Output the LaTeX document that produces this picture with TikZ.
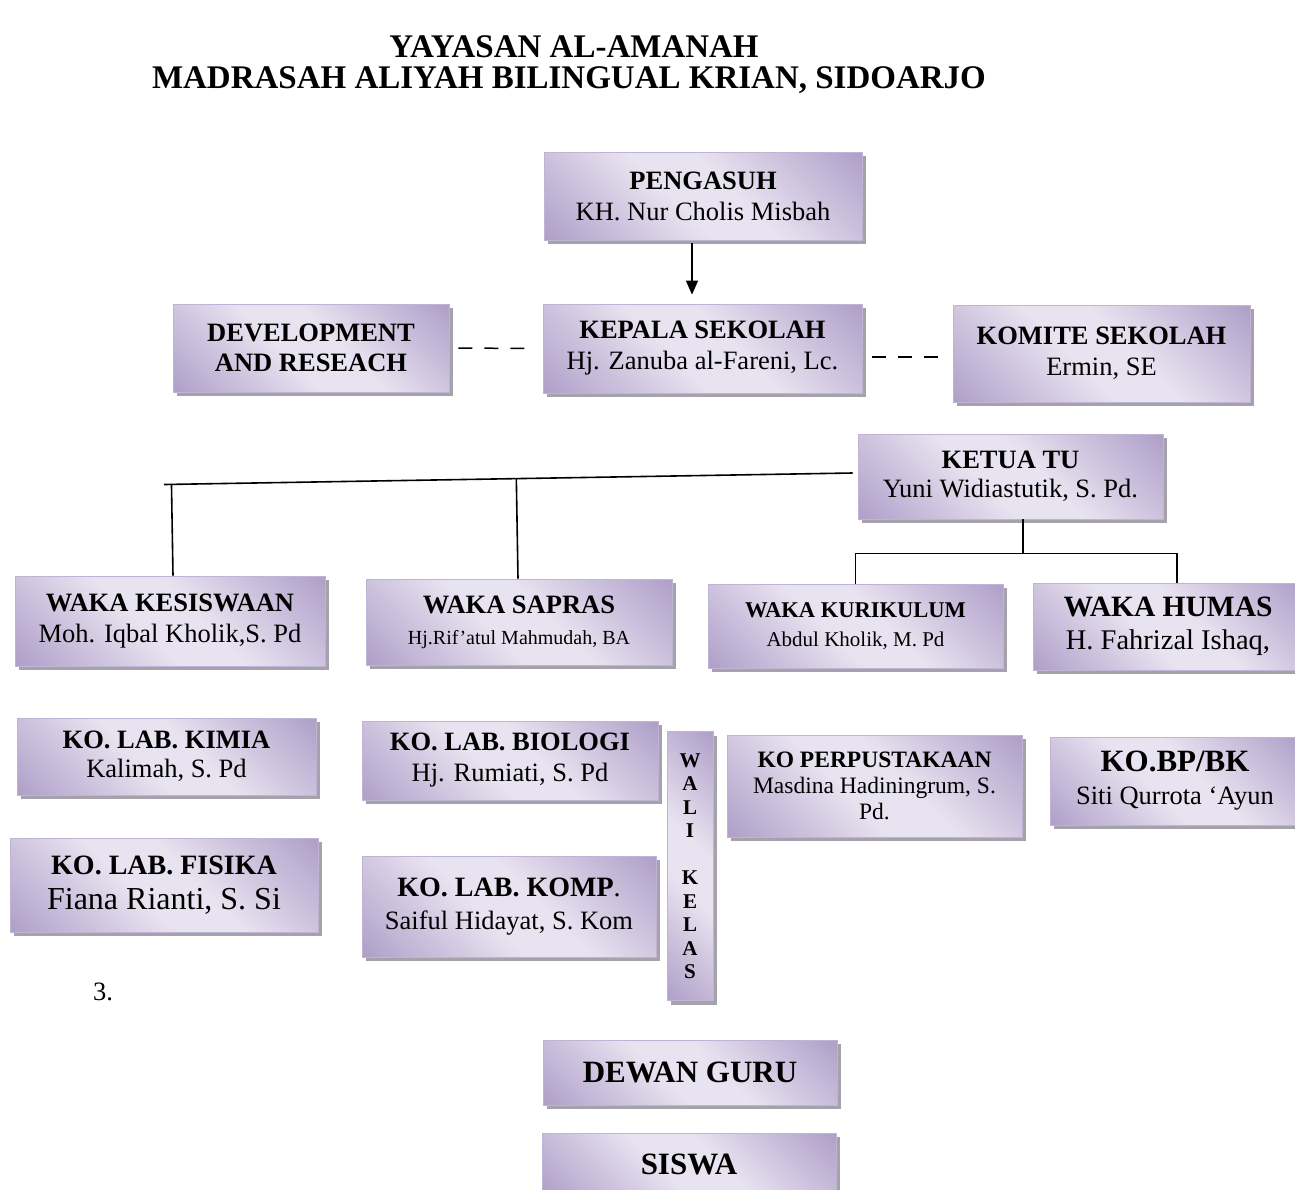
\documentclass[tikz,border=0pt]{standalone}
\usepackage{fontspec}
\setmainfont{Liberation Serif}
\usetikzlibrary{shadows,calc,arrows.meta}
\definecolor{plight}{HTML}{E8E3F0}
\definecolor{pdark}{HTML}{AE9DC8}
\definecolor{pborder}{HTML}{BFB3D6}
\definecolor{shadowc}{HTML}{A6A2AC}
\pgfdeclareverticalshading{boxsh}{100bp}{color(0bp)=(pdark); color(14bp)=(pdark); color(44bp)=(plight); color(56bp)=(plight); color(86bp)=(pdark); color(100bp)=(pdark)}
\newcommand{\fsz}[2]{\fontsize{#1}{#2}\selectfont}
\tikzset{
  box/.style={draw=pborder, line width=0.8pt, shade, shading=boxsh, shading angle=-45,
    inner sep=2pt, align=center,
    drop shadow={shadow xshift=4pt, shadow yshift=-4pt, fill=shadowc, opacity=1, draw=none}},
  conn/.style={line width=1.6pt, black},
  dashconn/.style={line width=1.5pt, black, dash pattern=on 14pt off 12pt},
}
\begin{document}
\begin{tikzpicture}[x=1pt,y=-1pt]
\fill[white] (0,0) rectangle (1295,1189);
\useasboundingbox (0,0) rectangle (1295,1189);

% title
\node[anchor=base, font=\fsz{33}{33}\bfseries, inner sep=0] (t1) at (574,57) {YAYASAN AL-AMANAH};
\node[anchor=base, font=\fsz{33}{33}\bfseries, inner sep=0] (t2) at (569,88) {MADRASAH ALIYAH BILINGUAL KRIAN, SIDOARJO};

% boxes
\node[box, minimum width=318pt, minimum height=88pt, font=\fsz{26.5}{31}] (peng) at (703,196) {\textbf{PENGASUH}\\KH. Nur Cholis Misbah};
\node[box, minimum width=319pt, minimum height=89pt, font=\fsz{26.5}{31}] (kep) at (702.5,348.5) {\textbf{KEPALA SEKOLAH}\\Hj. Zanuba al-Fareni, Lc.};
\node[box, minimum width=276pt, minimum height=88pt, font=\fsz{26.5}{30}\bfseries] (dev) at (311,348) {DEVELOPMENT\\AND RESEACH};
\node[box, minimum width=297pt, minimum height=97pt, font=\fsz{26.5}{31}] (kom) at (1101.5,353.5) {\textbf{KOMITE SEKOLAH}\\Ermin, SE};
\node[box, minimum width=305pt, minimum height=85pt, font=\fsz{26.5}{29}] (ketua) at (1010.5,476.5) {\textbf{KETUA TU}\\Yuni Widiastutik, S. Pd.};

\node[box, minimum width=310pt, minimum height=90pt, font=\fsz{26.5}{31}] (kes) at (170,621) {\textbf{WAKA KESISWAAN}\\Moh. Iqbal Kholik,S. Pd};
\node[box, minimum width=306pt, minimum height=86pt, font=\fsz{26.5}{31}] (sap) at (519,622) {\textbf{WAKA SAPRAS}\\{\fsz{20}{28}Hj.Rif’atul Mahmudah, BA}};
\node[box, minimum width=295pt, minimum height=84pt, font=\fsz{22.5}{29}] (kur) at (855.5,626) {\textbf{WAKA KURIKULUM}\\{\fsz{21}{28}Abdul Kholik, M. Pd}};
\node[box, minimum width=270pt, minimum height=87pt, font=\fsz{29.5}{33}] (hum) at (1168,626.5) {\textbf{WAKA HUMAS}\\{\fsz{28.5}{33}H. Fahrizal Ishaq,}};

\node[box, minimum width=299pt, minimum height=77pt, font=\fsz{26.5}{29}] (kim) at (166.5,756.5) {\textbf{KO. LAB. KIMIA}\\Kalimah, S. Pd};
\node[box, minimum width=296pt, minimum height=79pt, font=\fsz{26.5}{31}] (bio) at (510,760.5) {\textbf{KO. LAB. BIOLOGI}\\Hj. Rumiati, S. Pd};
\node[box, minimum width=308pt, minimum height=94pt, font=\fsz{28}{35}] (fis) at (164,885) {\textbf{KO. LAB. FISIKA}\\{\fsz{32}{35}Fiana Rianti, S. Si}};
\node[box, minimum width=294pt, minimum height=101pt, font=\fsz{28}{33}] (komp) at (509,906.5) {\textbf{KO. LAB. KOMP}.\\{\fsz{26.5}{33}Saiful Hidayat, S. Kom}};
\node[box, minimum width=46pt, minimum height=269pt, font=\fsz{21}{23.5}\bfseries] (wali) at (690,866) {W\\A\\L\\I\\[23.5pt]K\\E\\L\\A\\S};
\node[box, minimum width=295pt, minimum height=102pt, font=\fsz{23.5}{26}] (perp) at (874.5,786) {\textbf{KO PERPUSTAKAAN}\\Masdina Hadiningrum, S.\\Pd.};
\node[box, minimum width=250pt, minimum height=88pt, font=\fsz{31}{33}] (bp) at (1175,781) {\textbf{KO.BP/BK}\\{\fsz{26.5}{33}Siti Qurrota ‘Ayun}};

\node[font=\fsz{26.5}{30}, anchor=base, inner sep=0] (three) at (103,1000) {3.};

\node[box, minimum width=294pt, minimum height=65pt, font=\fsz{31}{33}\bfseries] (dewan) at (690,1072.5) {DEWAN GURU};
\node[box, minimum width=294pt, minimum height=62pt, font=\fsz{31}{33}\bfseries] (siswa) at (689,1164) {SISWA};

% connectors
\draw[conn, -{Triangle[length=14pt,width=12pt]}] ([shift={(-11,3)}]peng.south) -- ([shift={(-10.5,-9)}]kep.north);
\draw[dashconn] ([shift={(9,0)}]dev.east) -- ([shift={(-13,0)}]kep.west);
\draw[dashconn] ([shift={(10,8.5)}]kep.east) -- ([shift={(-11,3.5)}]kom.west);

\coordinate (kw) at ([shift={(-5,-3.5)}]ketua.west);
\coordinate (jl) at (164,484.5);
\draw[conn] (kw) -- (jl);
\draw[conn] ([xshift=3pt]kes.north) -- ($(jl)!([xshift=3pt]kes.north)!(kw)$);
\draw[conn] ([xshift=-1pt]sap.north) -- ($(jl)!([xshift=-1pt]sap.north)!(kw)$);

\draw[conn] ([xshift=12.5pt]ketua.south) -- ++(0,34) coordinate (hb);
\draw[conn] (kur.north) -- (kur.north |- hb) -- ([xshift=9pt]hum.north |- hb) -- ([xshift=9pt]hum.north);
\end{tikzpicture}
\end{document}
